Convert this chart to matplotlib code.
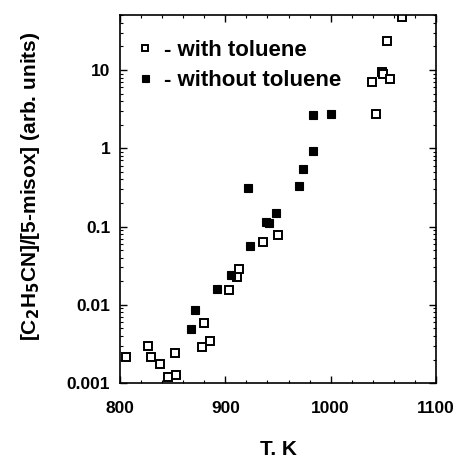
import matplotlib
matplotlib.use("Agg")
import matplotlib.pyplot as plt
from matplotlib.ticker import FixedLocator, LogLocator, FuncFormatter, MultipleLocator

plt.rcParams['font.family'] = ['Liberation Sans', 'DejaVu Sans']

# with toluene (open squares)
T_with = [805.7, 826.9, 829.1, 838.0, 845.3, 853.5, 852.5, 877.5, 880.1, 885.8,
          903.2, 910.8, 912.7, 935.5, 950.0, 1068.0, 1053.2, 1048.4, 1049.5,
          1039.0, 1056.3, 1043.0]
R_with = [0.00216, 0.00301, 0.00214, 0.00176, 0.00121, 0.00128, 0.00243, 0.00287,
          0.00577, 0.00349, 0.01524, 0.0225, 0.0283, 0.0638, 0.0776, 48.0, 23.3,
          9.5, 8.8, 7.09, 7.74, 2.71]

# without toluene (filled squares)
T_without = [867.1, 870.9, 892.4, 905.4, 923.7, 938.6, 941.8, 948.4, 921.2,
             969.6, 974.0, 983.5, 983.2, 1000.6]
R_without = [0.00498, 0.00853, 0.0158, 0.0239, 0.0561, 0.113, 0.112, 0.150,
             0.313, 0.332, 0.542, 0.93, 2.64, 2.71]

y_ticks = [0.001, 0.01, 0.1, 1, 10]
y_labels = ["0.001", "0.01", "0.1", "1", "10"]
x_ticks = [800, 900, 1000, 1100]

fig = plt.figure(figsize=(4.58, 4.61), dpi=100)
ax = fig.add_axes([0.262, 0.169, 0.690, 0.798])

ax.plot(T_with, R_with, linestyle='none', marker='s', markersize=6.0,
        markerfacecolor='white', markeredgecolor='black', markeredgewidth=1.4,
        label='- with toluene')
ax.plot(T_without, R_without, linestyle='none', marker='s', markersize=6.3,
        markerfacecolor='black', markeredgecolor='black', markeredgewidth=0.8,
        label='- without toluene')

ax.set_yscale('log')
ax.set_xlim(800, 1100)
ax.set_ylim(0.001, 50)
ax.xaxis.set_major_locator(FixedLocator(x_ticks))
ax.xaxis.set_minor_locator(MultipleLocator(20))
ax.yaxis.set_major_locator(FixedLocator(y_ticks))
ax.yaxis.set_major_formatter(FuncFormatter(lambda v, p: y_labels[y_ticks.index(v)] if v in y_ticks else ""))
ax.yaxis.set_minor_locator(LogLocator(base=10, subs=range(2, 10)))
ax.yaxis.set_minor_formatter(FuncFormatter(lambda v, p: ""))

ax.tick_params(which='both', direction='in', top=True, right=True)
ax.tick_params(which='major', length=5, width=1.0, labelsize=12.5)
ax.tick_params(axis='x', which='major', pad=13)
ax.tick_params(axis='y', which='major', pad=7)
ax.tick_params(which='minor', length=2.5, width=0.8)
for lab in ax.get_xticklabels() + ax.get_yticklabels():
    lab.set_fontweight('bold')
for sp in ax.spines.values():
    sp.set_linewidth(1.2)

ax.set_xlabel('T. K', fontsize=15, fontweight='bold')
ax.xaxis.set_label_coords(0.5, -0.155)
ax.set_ylabel('[C$_{\\mathbf{2}}$H$_{\\mathbf{5}}$CN]/[5-misox] (arb. units)',
              fontsize=15, fontweight='bold')
ax.yaxis.set_label_coords(-0.247, 0.534)

leg = ax.legend(loc='upper left', bbox_to_anchor=(0.013, 0.975), frameon=False,
                handlelength=0.5, handletextpad=0.6, borderaxespad=0.3,
                labelspacing=0.40, markerscale=0.8,
                prop={'weight': 'bold', 'size': 16})

fig.savefig('out.png', dpi=100)
